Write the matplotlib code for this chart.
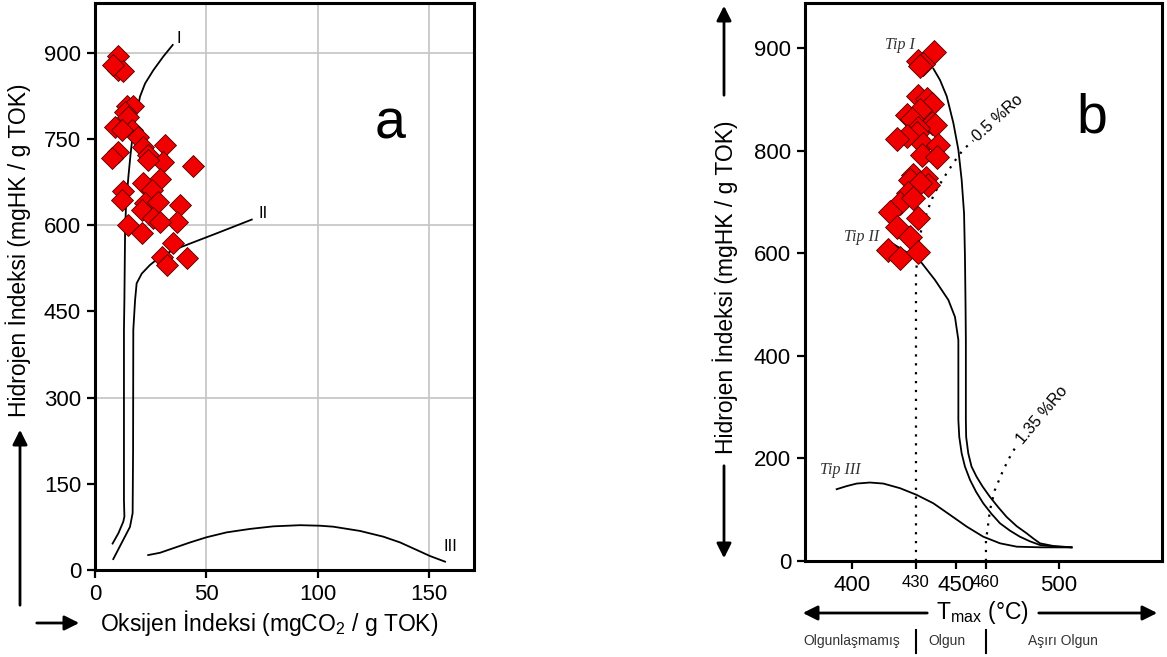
import numpy as np
import matplotlib.pyplot as plt
from matplotlib.transforms import blended_transform_factory

plt.rcParams['font.family'] = ['Liberation Sans', 'DejaVu Sans']
plt.rcParams['mathtext.default'] = 'regular'

W, H = 1167, 657

# (a) HI - OI diyagrami: ornekler
oi_a = [10.2, 10.5, 12.7, 8.2, 14.2, 17.2, 13.5, 15.0, 9.0, 16.5, 12.0, 19.4,
        10.5, 21.7, 31.4, 23.9, 7.5, 30.7, 23.9, 44.1, 29.2, 21.7, 25.5, 12.7,
        12.0, 22.5, 28.4, 38.2, 21.0, 26.2, 36.7, 15.0, 29.2, 21.0, 35.2, 30.0,
        32.2, 41.2]
hi_a = [894, 870, 869, 879, 807, 807, 798, 789, 772, 766, 766, 754,
        728, 737, 740, 722, 717, 711, 714, 703, 680, 673, 662, 659,
        644, 638, 641, 636, 627, 612, 606, 600, 606, 586, 569, 545,
        531, 543]

# (a) kerojen tip egrileri
oi_I = [7.9, 10.5, 12.7, 13.2, 13.0, 13.0, 13.2, 13.5, 13.9, 15.0, 16.0, 17.2,
        18.7, 20.2, 22.5, 26.2, 30.7, 34.9]
hi_I = [46, 64, 84, 93, 122, 418, 470, 586, 632, 685, 725, 766,
        795, 824, 847, 870, 894, 914]
oi_II = [8.2, 15.7, 16.9, 17.1, 17.2, 18.0, 18.7, 21.0, 24.7, 29.2, 35.2, 41.2,
         54.6, 70.4]
hi_II = [19, 75, 99, 209, 418, 470, 499, 516, 531, 545, 557, 566,
         586, 610]
oi_III = [23.9, 29.2, 35.2, 42.7, 50.1, 59.1, 69.6, 80.1, 92.1, 101.0, 107.0,
          119.0, 129.5, 137.0, 144.4, 150.4, 157.2]
hi_III = [26, 30, 38, 48, 57, 65.5, 71.5, 76, 78, 77.1, 75.4,
          68, 58, 48, 35, 24.4, 14.5]

# (b) HI - Tmax diyagrami: ornekler
tmax_b = [439.2, 431.2, 433.7, 432.0, 431.2, 435.4, 437.9, 432.0, 425.7, 428.0,
          437.9, 439.5, 431.2, 430.3, 425.7, 421.0, 433.7, 441.2, 432.9, 440.4,
          428.7, 435.2, 427.2, 436.0, 432.0, 426.4, 422.5, 428.7, 417.8, 431.2,
          421.0, 427.2, 417.0, 422.5, 431.2]
hi_b = [896, 887, 885, 883, 853, 850, 846, 840, 835, 831,
        827, 825, 822, 817, 814, 811, 807, 806, 792, 788,
        753, 746, 743, 733, 737, 717, 698, 708, 681, 668,
        652, 632, 607, 590, 603]

# (b) tip egrileri
t_I = [438.7, 442.0, 445.4, 448.7, 450.8, 451.9, 452.7, 453.0, 453.2, 453.3,
       453.3, 453.4, 454.1, 455.2, 456.9, 458.9, 462.2, 466.7, 471.3, 476.8,
       482.3, 485.9, 489.6, 496.9, 506.1]
h_I = [880, 869, 853, 827, 801, 743, 678, 593, 496, 431,
       275, 242, 210, 184, 164, 145, 125, 105, 86, 68,
       54, 44, 34.5, 29.3, 26.7]
t_II = [418.6, 426.4, 432.9, 439.5, 446.2, 449.5, 450.8, 450.8, 451.1, 451.9,
        453.0, 454.7, 456.7, 459.1, 463.1, 467.7, 473.2, 478.6, 484.1, 489.6,
        498.8, 506.1]
h_II = [620, 600, 581, 548, 509, 476, 431, 275, 242, 210,
        184, 158, 135, 112.5, 91.7, 73.5, 59.1, 47.4, 38.4, 31.2,
        27.9, 26.7]
t_III = [392.6, 397.4, 402.2, 408.4, 414.7, 422.5, 430.3, 438.7, 447.0, 453.6,
         459.1, 467.7, 476.9, 489.6, 506.1]
h_III = [140, 146, 151, 153, 151, 142, 129, 112.5, 90, 67,
         47.4, 34.5, 27.9, 26.7, 26.5]

# vitrinit yansimasi (%Ro) cizgileri
t_ro05 = [430, 430, 431.5, 435.8, 439.2, 444.2, 449.2, 452.4, 455.8]
h_ro05 = [0, 560, 630, 684, 717, 749, 779, 801, 810]
t_ro135 = [460, 460, 460.8, 462.2, 464.9, 469.5, 474.1, 477.7]
h_ro135 = [0, 40, 60, 99.5, 138.5, 177.5, 210, 229.5]

# orijinal sekildeki eksenler dogrusal degil (elle cizilmis)
hi_knots, hi_lin = [0, 800, 900, 2000], [0, 800, 1000, 3200]
t_knots = [300, 400, 430, 450, 460, 500, 700]
t_lin = [645, 852, 916, 956, 986, 1059, 1473]

def fwd_hi(v): return np.interp(v, hi_knots, hi_lin)
def inv_hi(v): return np.interp(v, hi_lin, hi_knots)
def fwd_t(v): return np.interp(v, t_knots, t_lin)
def inv_t(v): return np.interp(v, t_lin, t_knots)

def ff(x, y):
    # goruntu pikselinden figure fraction'a
    return x / W, 1 - y / H

fig = plt.figure(figsize=(W / 100, H / 100), dpi=100)
axa = fig.add_axes([95 / W, 1 - 570 / H, (474 - 95) / W, (570 - 3) / H])
axb = fig.add_axes([805 / W, 1 - 561 / H, (1162 - 805) / W, (561 - 3) / H])

diamond = dict(marker='D', linestyle='none', markerfacecolor='#f00000',
               markeredgecolor='#500000', markeredgewidth=0.6, zorder=5)
curve = dict(color='k', lw=1.3, zorder=2, solid_joinstyle='round')

# ---------------- panel a ----------------
axa.set_xlim(0, 170.2)
axa.set_ylim(0, 987)
for v in [50, 100, 150]:
    axa.axvline(v, color='#c4c4c4', lw=1.2, zorder=0)
for v in [300, 600, 900]:
    axa.axhline(v, color='#c4c4c4', lw=1.2, zorder=0)
axa.plot(oi_I, hi_I, **curve)
axa.plot(oi_II, hi_II, **curve)
axa.plot(oi_III, hi_III, **curve)
axa.plot(oi_a, hi_a, markersize=11, **diamond)
axa.set_xticks([0, 50, 100, 150])
axa.set_yticks([0, 150, 300, 450, 600, 750, 900])
axa.text(37.8, 926, 'I', fontsize=12, ha='center', va='center')
axa.text(75.4, 621, 'II', fontsize=12, ha='center', va='center')
axa.text(159.4, 41, 'III', fontsize=12, ha='center', va='center')
axa.text(132.5, 775, 'a', fontsize=40, ha='center', va='center')

# ---------------- panel b ----------------
axb.set_xscale('function', functions=(fwd_t, inv_t))
axb.set_yscale('function', functions=(fwd_hi, inv_hi))
axb.set_xlim(377.3, 549.8)
axb.set_ylim(0, 944)
axb.plot(t_I, h_I, **curve)
axb.plot(t_II, h_II, **curve)
axb.plot(t_III, h_III, **curve)
axb.plot(t_ro05, h_ro05, color='k', lw=1.6, linestyle=(0, (1, 3)), zorder=1)
axb.plot(t_ro135, h_ro135, color='k', lw=1.6, linestyle=(0, (1, 3)), zorder=1)
axb.plot(tmax_b, hi_b, markersize=12.5, **diamond)
axb.set_xticks([400, 430, 450, 460, 500])
axb.set_xticklabels(['400', '430', '450', '460', '500'])
axb.set_yticks([0, 200, 400, 600, 800, 900])
axb.set_yticklabels(['0', '200', '400', '600', '800', '900'])

tip_font = dict(family='Liberation Serif', style='italic', fontsize=11.5,
                color='#333333', ha='center', va='center')
axb.text(422.5, 903, 'Tip I', **tip_font)
axb.text(404.5, 632, 'Tip II', **tip_font)
axb.text(394.2, 178, 'Tip III', **tip_font)
axb.text(456.5, 812, '0.5 %Ro', fontsize=11.5, rotation=42, rotation_mode='anchor',
         ha='left', va='center')
axb.text(478.5, 232, '1.35 %Ro', fontsize=11.5, rotation=50, rotation_mode='anchor',
         ha='left', va='center')
axb.text(515.9, 831, 'b', fontsize=40, ha='center', va='center')

for ax in (axa, axb):
    for s in ax.spines.values():
        s.set_linewidth(2.2)
    ax.tick_params(direction='out', length=6, width=1.6, labelsize=16, pad=4)

for lab in axb.get_xticklabels():
    if lab.get_text() in ('430', '460'):
        lab.set_fontsize(12)

# ---------------- eksen basliklari ve oklar ----------------
arrow = dict(arrowstyle='-|>', color='k', lw=2, mutation_scale=22)

fig.text(*ff(18, 250), 'Hidrojen İndeksi (mgHK / g TOK)', rotation=90,
         fontsize=16.5, ha='center', va='center')
fig.text(*ff(269, 623), 'Oksijen İndeksi (mgCO$_{2}$ / g TOK)',
         fontsize=16.5, ha='center', va='center')
axa.annotate('', xy=ff(20, 427), xytext=ff(20, 608), xycoords='figure fraction',
             textcoords='figure fraction', arrowprops=arrow, annotation_clip=False)
axa.annotate('', xy=ff(82, 623), xytext=ff(34, 623), xycoords='figure fraction',
             textcoords='figure fraction', arrowprops=arrow, annotation_clip=False)

fig.text(*ff(725, 287), 'Hidrojen İndeksi (mgHK / g TOK)', rotation=90,
         fontsize=16.5, ha='center', va='center')
axb.annotate('', xy=ff(724, 3), xytext=ff(724, 98), xycoords='figure fraction',
             textcoords='figure fraction', arrowprops=arrow, annotation_clip=False)
axb.annotate('', xy=ff(724, 561), xytext=ff(724, 463), xycoords='figure fraction',
             textcoords='figure fraction', arrowprops=arrow, annotation_clip=False)

fig.text(*ff(982, 612), 'T$_{max}$ (°C)', fontsize=16.5, ha='center', va='center')
axb.annotate('', xy=ff(800, 613), xytext=ff(930, 613), xycoords='figure fraction',
             textcoords='figure fraction', arrowprops=arrow, annotation_clip=False)
axb.annotate('', xy=ff(1160, 613), xytext=ff(1036, 613), xycoords='figure fraction',
             textcoords='figure fraction', arrowprops=arrow, annotation_clip=False)

# olgunluk bolgeleri
btr = blended_transform_factory(axb.transData, fig.transFigure)
for t in [430, 460]:
    axb.plot([t, t], [1 - 630 / H, 1 - 653 / H], color='k', lw=1.5,
             transform=btr, clip_on=False)
y_zone = 1 - 641 / H
axb.text(400, y_zone, 'Olgunlaşmamış', transform=btr, fontsize=10, color='#333333',
         ha='center', va='center')
axb.text(445.5, y_zone, 'Olgun', transform=btr, fontsize=10, color='#333333',
         ha='center', va='center')
axb.text(502, y_zone, 'Aşırı Olgun', transform=btr, fontsize=10, color='#333333',
         ha='center', va='center')

fig.savefig('out.png', dpi=100)
